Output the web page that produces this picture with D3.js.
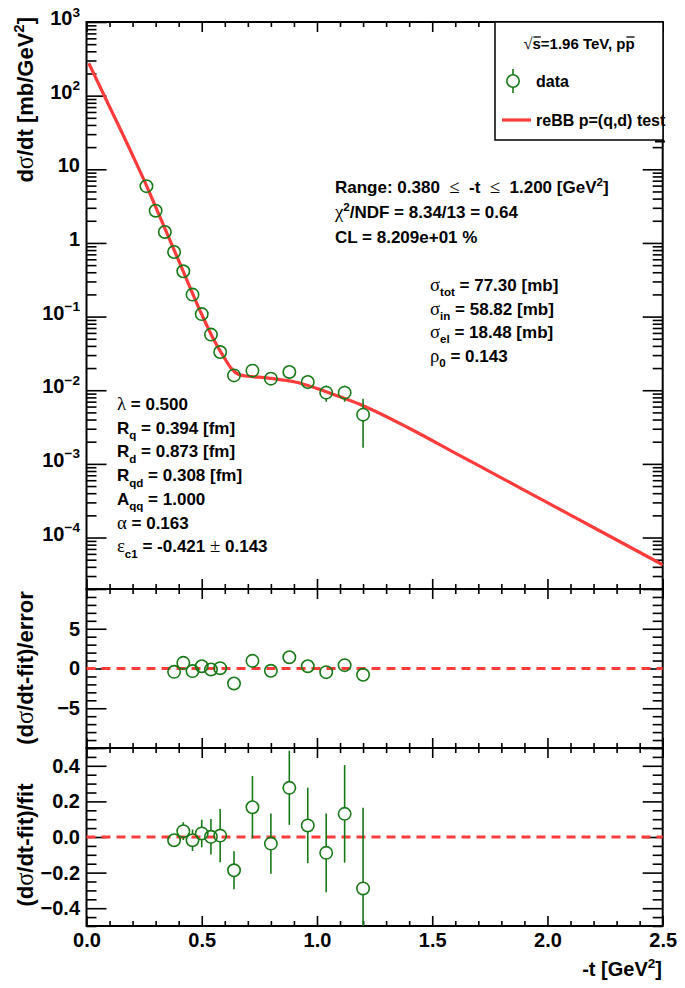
<!DOCTYPE html>
<html><head><meta charset="utf-8">
<script src="https://cdn.jsdelivr.net/npm/d3@7"></script>
<style>html,body{margin:0;padding:0;background:#fff;}svg{display:block;}text{white-space:pre;}</style>
</head><body>
<svg id="c" width="685" height="988"></svg>
<script>
// ---------------- data ----------------
const tData   = [0.26,0.30,0.34,0.38,0.42,0.46,0.50,0.54,0.58,0.64,0.72,0.80,0.88,0.96,1.04,1.12,1.20];
const dsdt    = [5.9,2.74,1.41,0.753,0.412,0.199,0.108,0.0569,0.0330,0.0159,0.01845,0.01436,0.0177,0.01294,0.00927,0.00927,0.00466];
const dsdtErr = [0.24,0.11,0.056,0.023,0.020,0.012,0.0082,0.0057,0.0049,0.0021,0.0028,0.0025,0.0029,0.0026,0.0023,0.0023,0.0030];

const tFit   = [0.01,0.1,0.2,0.26,0.3,0.4,0.5,0.55,0.6,0.63,0.66,0.7,0.75,0.8,0.9,1.0,1.1,1.2,1.4,1.6,1.8,2.0,2.2,2.5];
const fitVal = [275,70.8,15.5,6.03,3.09,0.575,0.107,0.0501,0.0269,0.0195,0.0164,0.01549,0.01507,0.01445,0.01303,0.01059,0.00813,0.00617,0.00305,0.001403,0.000646,0.000297,0.0001368,0.0000427];

const tRes    = [0.38,0.42,0.46,0.50,0.54,0.58,0.64,0.72,0.80,0.88,0.96,1.04,1.12,1.20];
const pull    = [-0.42,0.71,-0.33,0.29,-0.12,0.04,-1.88,0.96,-0.29,1.42,0.29,-0.46,0.42,-0.79];
const relDiff = [-0.018,0.033,-0.018,0.02,0.001,0.008,-0.187,0.167,-0.037,0.276,0.065,-0.089,0.130,-0.289];
const relErr  = [0.03,0.05,0.06,0.077,0.10,0.15,0.107,0.175,0.169,0.208,0.212,0.221,0.274,0.453];

const xTickLabels   = [0,0.5,1.0,1.5,2.0,2.5];
const mainDecades   = [-4,-3,-2,-1,0,1,2,3];
const pullTickLabels= [-5,0,5];
const relTickLabels = [-0.4,-0.2,0,0.2,0.4];

// ---------------- layout ----------------
const SANS = "'Liberation Sans', Arial, Helvetica, sans-serif";
const SERIF = "'Liberation Serif', 'Times New Roman', serif";
const X0 = 86.5, X1 = 662.7;
const mainTop = 22, mainBot = 589, pullBot = 748, relBot = 926;
const GREEN = "#177a17", RED = "#ff3b3b";

const svg = d3.select('#c');
const x = d3.scaleLinear().domain([0,2.5]).range([X0,X1]);
const yMain = d3.scaleLog().domain([2e-5,1e3]).range([mainBot,mainTop]);
const yPull = d3.scaleLinear().domain([-10,10]).range([pullBot,mainBot]);
const yRel  = d3.scaleLinear().domain([-0.5,0.5]).range([relBot,pullBot]);

// clip paths
const defs = svg.append('defs');
[['cMain',mainTop,mainBot],['cPull',mainBot,pullBot],['cRel',pullBot,relBot]].forEach(([id,t,b])=>{
  defs.append('clipPath').attr('id',id).append('rect').attr('x',X0).attr('y',t).attr('width',X1-X0).attr('height',b-t);
});

// rich text helper: parts = string | [string, kind]
function rich(parent, parts, size, anchor){
  const outer = parent.append('g');
  const g = outer.append('g');
  let cx = 0;
  parts.forEach(p=>{
    const [s,kind] = (typeof p === 'string') ? [p,'n'] : p;
    let fs=size, dy=0, fam=SANS, fw='bold';
    if(kind==='sub'){fs=size*0.68; dy=size*0.32;}
    if(kind==='sup'){fs=size*0.68; dy=-size*0.42;}
    if(kind==='g'){fam=SERIF; fw='normal'; fs=size*1.1;}
    const t = g.append('text').attr('x',cx).attr('y',dy).attr('font-size',fs)
      .attr('font-family',fam).attr('font-weight',fw).attr('fill','#000')
      .attr('xml:space','preserve').style('white-space','pre').text(s);
    const w = t.node().getComputedTextLength();
    if(kind==='ov'){
      g.append('line').attr('x1',cx+1).attr('x2',cx+w).attr('y1',-size*0.8).attr('y2',-size*0.8)
        .attr('stroke','#000').attr('stroke-width',1.3);
    }
    cx += w;
  });
  const shift = anchor==='end' ? -cx : anchor==='middle' ? -cx/2 : 0;
  g.attr('transform',`translate(${shift},0)`);
  return outer;
}

// ---------------- axes / ticks ----------------
function xTicks(top, bot){
  const minors = d3.range(0,2.5001,0.1).map(v=>+v.toFixed(2));
  const majors = minors.filter(v=>Math.abs(v*2-Math.round(v*2))<1e-6);
  const minorOnly = minors.filter(v=>!majors.includes(v));
  [[minorOnly,5],[majors,10]].forEach(([vals,len])=>{
    svg.append('g').attr('class','tk').attr('transform',`translate(0,${bot})`)
      .call(d3.axisBottom(x).tickValues(vals).tickSize(-len).tickFormat(''));
    svg.append('g').attr('class','tk').attr('transform',`translate(0,${top})`)
      .call(d3.axisTop(x).tickValues(vals).tickSize(-len).tickFormat(''));
  });
}
function yTicks(scale, minors, majors){
  [[minors,10],[majors,20]].forEach(([vals,len])=>{
    svg.append('g').attr('class','tk').attr('transform',`translate(${X0},0)`)
      .call(d3.axisLeft(scale).tickValues(vals).tickSize(-len).tickFormat(''));
    svg.append('g').attr('class','tk').attr('transform',`translate(${X1},0)`)
      .call(d3.axisRight(scale).tickValues(vals).tickSize(-len).tickFormat(''));
  });
}
xTicks(mainTop,mainBot); xTicks(mainBot,pullBot); xTicks(pullBot,relBot);

// main log ticks
const logMinor=[], logMajor=[];
for(let e=-5;e<=3;e++){
  for(let k=1;k<=9;k++){
    const v=k*Math.pow(10,e);
    if(v<2e-5*0.999||v>1e3*1.001) continue;
    if(k===1) logMajor.push(v); else logMinor.push(v);
  }
}
yTicks(yMain, logMinor, logMajor);
const pullMaj = [-10,-5,0,5,10];
yTicks(yPull, d3.range(-10,11,1).filter(v=>!pullMaj.includes(v)), pullMaj);
const relMaj = [-0.4,-0.2,0,0.2,0.4];
yTicks(yRel, d3.range(-0.5,0.5001,0.05).map(v=>+v.toFixed(2)).filter(v=>!relMaj.some(m=>Math.abs(m-v)<1e-6)), relMaj);
svg.selectAll('.tk path.domain').remove();
svg.selectAll('.tk line').attr('stroke','#000').attr('stroke-width',1.6);

// tick labels
const xl = svg.append('g').attr('transform',`translate(0,${relBot})`)
  .call(d3.axisBottom(x).tickValues(xTickLabels).tickSize(0).tickPadding(7).tickFormat(d3.format('.1f')));
xl.select('.domain').remove();
xl.selectAll('text').attr('font-size',20).attr('font-family',SANS).attr('font-weight','bold').attr('fill','#000');

const pl = svg.append('g').attr('transform',`translate(${X0},0)`)
  .call(d3.axisLeft(yPull).tickValues(pullTickLabels).tickSize(0).tickPadding(6.5).tickFormat(d3.format('d')));
pl.select('.domain').remove();
pl.selectAll('text').attr('font-size',20).attr('font-family',SANS).attr('font-weight','bold').attr('fill','#000');

const rl = svg.append('g').attr('transform',`translate(${X0},0)`)
  .call(d3.axisLeft(yRel).tickValues(relTickLabels).tickSize(0).tickPadding(6.5).tickFormat(d3.format('.1f')));
rl.select('.domain').remove();
rl.selectAll('text').attr('font-size',20).attr('font-family',SANS).attr('font-weight','bold').attr('fill','#000');

mainDecades.forEach(e=>{
  const v=Math.pow(10,e);
  const parts = e===0 ? ['1'] : e===1 ? ['10'] : ['10',[String(e).replace('-','\u2212'),'sup']];
  rich(svg,parts,20,'end').attr('transform',`translate(80,${yMain(v)+3})`);
});

// frames
[[mainTop,mainBot],[mainBot,pullBot],[pullBot,relBot]].forEach(([t,b])=>{
  svg.append('rect').attr('x',X0).attr('y',t).attr('width',X1-X0).attr('height',b-t)
    .attr('fill','none').attr('stroke','#000').attr('stroke-width',2);
});

// ---------------- main panel ----------------
const fitLine = d3.line().x(d=>x(d[0])).y(d=>yMain(d[1])).curve(d3.curveMonotoneX);
svg.append('path').attr('clip-path','url(#cMain)').datum(tFit.map((t,i)=>[t,fitVal[i]]))
  .attr('d',fitLine).attr('fill','none').attr('stroke',RED).attr('stroke-width',3.2);

const R = 6.2;
function errBars(g, cx, cy, yTop, yBotE){
  if(cy - yTop > R) g.append('line').attr('x1',cx).attr('x2',cx).attr('y1',cy-R).attr('y2',yTop);
  if(yBotE - cy > R) g.append('line').attr('x1',cx).attr('x2',cx).attr('y1',cy+R).attr('y2',yBotE);
}
const gm = svg.append('g').attr('clip-path','url(#cMain)').attr('stroke',GREEN).attr('stroke-width',1.6).attr('fill','none');
tData.forEach((t,i)=>{
  const cx=x(t), cy=yMain(dsdt[i]);
  errBars(gm,cx,cy,yMain(dsdt[i]+dsdtErr[i]),yMain(Math.max(dsdt[i]-dsdtErr[i],1e-9)));
  gm.append('circle').attr('cx',cx).attr('cy',cy).attr('r',R);
});

// ---------------- residual panels ----------------
[yPull,yRel].forEach(sc=>{
  svg.append('line').attr('x1',X0).attr('x2',X1).attr('y1',sc(0)).attr('y2',sc(0))
    .attr('stroke',RED).attr('stroke-width',3).attr('stroke-dasharray','9,6');
});
const gp = svg.append('g').attr('clip-path','url(#cPull)').attr('stroke',GREEN).attr('stroke-width',1.6).attr('fill','none');
tRes.forEach((t,i)=>{ gp.append('circle').attr('cx',x(t)).attr('cy',yPull(pull[i])).attr('r',R); });
const gr = svg.append('g').attr('clip-path','url(#cRel)').attr('stroke',GREEN).attr('stroke-width',1.6).attr('fill','none');
tRes.forEach((t,i)=>{
  const cx=x(t), cy=yRel(relDiff[i]);
  errBars(gr,cx,cy,yRel(relDiff[i]+relErr[i]),yRel(relDiff[i]-relErr[i]));
  gr.append('circle').attr('cx',cx).attr('cy',cy).attr('r',R);
});

// ---------------- axis titles ----------------
rich(svg,['d',['\u03c3','g'],'/dt [mb/GeV',['2','sup'],']'],22,'end').attr('transform','translate(33,17) rotate(-90)');
rich(svg,['(d',['\u03c3','g'],'/dt-fit)/error'],22,'middle').attr('transform','translate(33,668) rotate(-90)');
rich(svg,['(d',['\u03c3','g'],'/dt-fit)/fit'],22,'middle').attr('transform','translate(33,845) rotate(-90)');
rich(svg,['-t [GeV',['2','sup'],']'],20,'end').attr('transform','translate(662,976)');

// ---------------- annotations ----------------
const FS = 17;
rich(svg,['Range: 0.380  ',['\u2264','g'],'  -t  ',['\u2264','g'],'  1.200 [GeV',['2','sup'],']'],FS,'start').attr('transform','translate(335,193)');
rich(svg,[['\u03c7','g'],['2','sup'],'/NDF = 8.34/13 = 0.64'],FS,'start').attr('transform','translate(335,218)');
rich(svg,['CL = 8.209e+01 %'],FS,'start').attr('transform','translate(335,243)');

const sigLines = [
  [['\u03c3','g'],['tot','sub'],' = 77.30 [mb]'],
  [['\u03c3','g'],['in','sub'],' = 58.82 [mb]'],
  [['\u03c3','g'],['el','sub'],' = 18.48 [mb]'],
  [['\u03c1','g'],['0','sub'],' = 0.143']
];
sigLines.forEach((p,i)=>rich(svg,p,FS,'start').attr('transform',`translate(430,${291+i*23.5})`));

const parLines = [
  [['\u03bb','g'],' = 0.500'],
  ['R',['q','sub'],' = 0.394 [fm]'],
  ['R',['d','sub'],' = 0.873 [fm]'],
  ['R',['qd','sub'],' = 0.308 [fm]'],
  ['A',['qq','sub'],' = 1.000'],
  [['\u03b1','g'],' = 0.163'],
  [['\u03b5','g'],['c1','sub'],' = -0.421 ',['\u00b1','g'],' 0.143']
];
parLines.forEach((p,i)=>rich(svg,p,FS,'start').attr('transform',`translate(117,${410+i*23.7})`));

// ---------------- legend ----------------
svg.append('rect').attr('x',495).attr('y',22).attr('width',168).attr('height',118)
  .attr('fill','#fff').attr('stroke','#000').attr('stroke-width',1.5);
svg.append('line').attr('x1',655).attr('x2',665).attr('y1',141.5).attr('y2',141.5).attr('stroke','#000').attr('stroke-width',2);
rich(svg,[['\u221a','g'],['s','ov'],'=1.96 TeV, p',['p','ov']],15,'middle').attr('transform','translate(579,49)');
const lg = svg.append('g').attr('stroke',GREEN).attr('stroke-width',1.6).attr('fill','none');
lg.append('circle').attr('cx',513).attr('cy',81).attr('r',R);
lg.append('line').attr('x1',513).attr('x2',513).attr('y1',69).attr('y2',81-R);
lg.append('line').attr('x1',513).attr('x2',513).attr('y1',81+R).attr('y2',93);
rich(svg,['data'],16,'start').attr('transform','translate(536,87)');
svg.append('line').attr('x1',502).attr('x2',531).attr('y1',120).attr('y2',120).attr('stroke',RED).attr('stroke-width',3.2);
rich(svg,['reBB p=(q,d) test'],16,'start').attr('transform','translate(536,126)');
</script>
</body></html>
